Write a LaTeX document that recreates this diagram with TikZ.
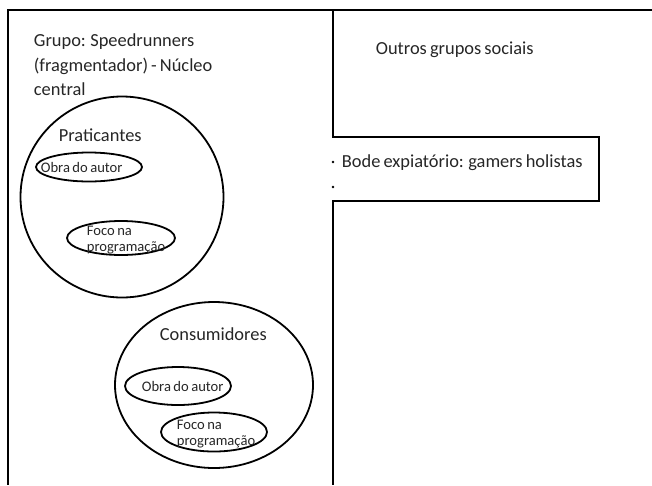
\documentclass[tikz,border=0pt]{standalone}
\usepackage{fontspec}
\setmainfont{Carlito}[WordSpace=0.75]
\usetikzlibrary{shapes.geometric}
\begin{document}
\begin{tikzpicture}[x=1pt,y=-1pt,line width=1.8pt,
  big/.style={font=\fontsize{18.4}{24.5}\selectfont,text=black!85,inner sep=0pt,align=left,anchor=west},
  small/.style={font=\fontsize{14.6}{16.5}\selectfont,text=black!85,inner sep=0pt,align=left,anchor=west},
  oval/.style={draw,ellipse,inner sep=0pt}]
\useasboundingbox (0,0) rectangle (652,485);
\draw (652,10) -- (8,10) -- (8,485);
\draw (333,10) -- (333,137) -- (599,137) -- (599,201) -- (333,201) -- (333,485);
\fill (333,162) circle (1.3pt);
\fill (333,187) circle (1.3pt);
\node[big] (grupo) at (33,65) {Grupo: Speedrunners\\(fragmentador) - Núcleo\\central};
\node[big] (outros) at (375,50) {Outros grupos sociais};
\node[big] (bode) at (341,163) {Bode expiatório: gamers holistas};
\node[oval,minimum width=203pt,minimum height=201pt] (prat) at (122,197) {};
\node[big] (pratl) at (58,135) {Praticantes};
\node[oval,minimum width=106pt,minimum height=29pt] (obra1) at (89,167) {};
\node[small] (obra1l) at (40,167) {Obra do autor};
\node[oval,minimum width=108pt,minimum height=34pt] (foco1) at (121,238) {};
\node[small] (foco1l) at (86,240) {Foco na\\programação};
\node[oval,minimum width=198pt,minimum height=166pt] (cons) at (214,385) {};
\node[big] (consl) at (159,334) {Consumidores};
\node[oval,minimum width=106pt,minimum height=38pt] (obra2) at (178,386) {};
\node[small] (obra2l) at (141,386) {Obra do autor};
\node[oval,minimum width=106pt,minimum height=39pt] (foco2) at (214,432) {};
\node[small] (foco2l) at (176,434) {Foco na\\programação};
\end{tikzpicture}
\end{document}
